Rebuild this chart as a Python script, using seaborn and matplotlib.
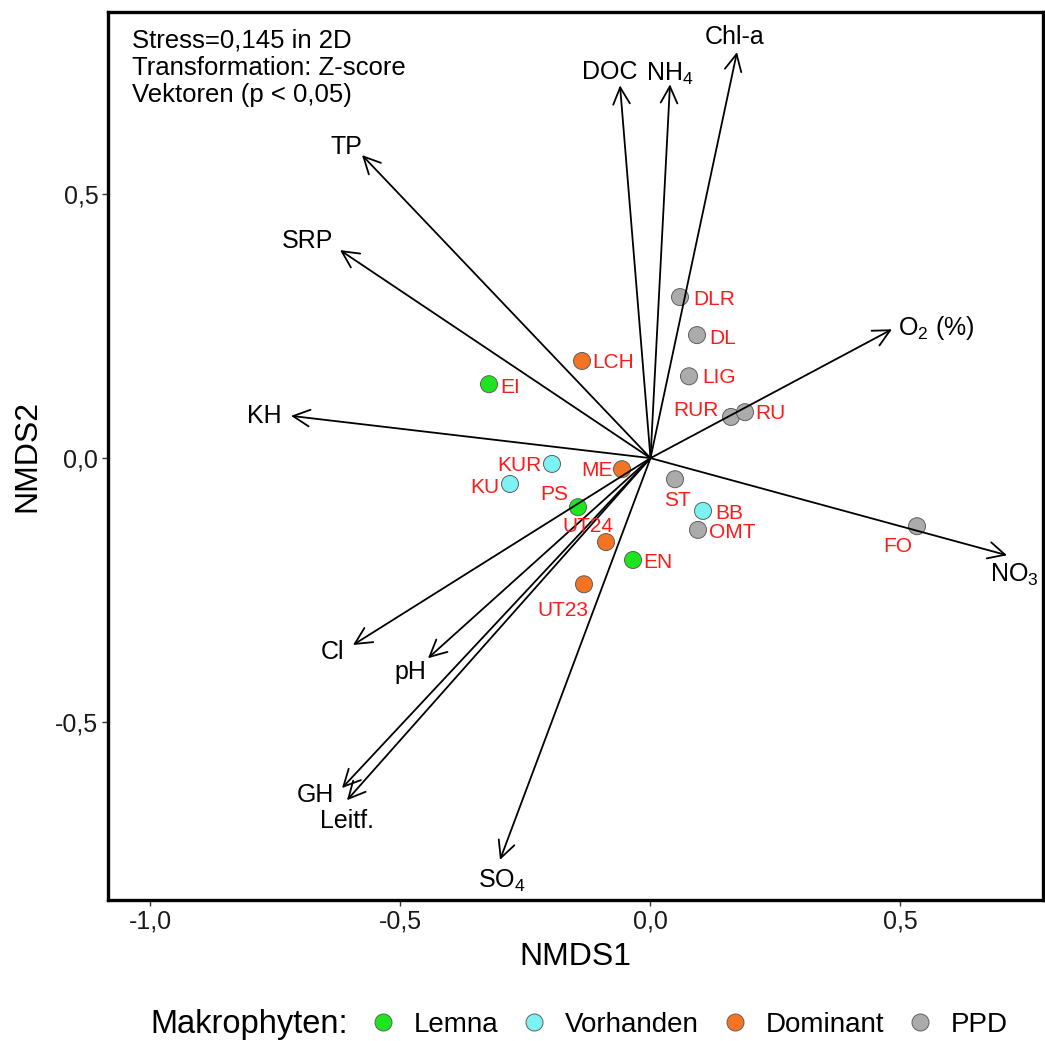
import matplotlib
matplotlib.use("Agg")
from matplotlib import pyplot as plt
import seaborn as sns
import pandas as pd

# sites (NMDS scores) and their macrophyte class
sites = ["DLR", "DL", "LIG", "RUR", "RU", "LCH", "EI", "KUR", "KU", "ME",
         "PS", "UT24", "EN", "UT23", "ST", "BB", "OMT", "FO"]
nmds1 = [0.059, 0.093, 0.077, 0.161, 0.189, -0.137, -0.323, -0.197, -0.281, -0.057,
         -0.145, -0.089, -0.035, -0.133, 0.049, 0.105, 0.095, 0.533]
nmds2 = [0.305, 0.233, 0.155, 0.078, 0.087, 0.184, 0.140, -0.011, -0.049, -0.021,
         -0.093, -0.159, -0.193, -0.239, -0.040, -0.100, -0.136, -0.129]
makrophyten = ["PPD", "PPD", "PPD", "PPD", "PPD", "Dominant", "Lemna", "Vorhanden",
               "Vorhanden", "Dominant", "Lemna", "Dominant", "Lemna", "Dominant",
               "PPD", "Vorhanden", "PPD", "PPD"]

groups = ["Lemna", "Vorhanden", "Dominant", "PPD"]
group_colors = ["#1EE61E", "#7DF2F2", "#F57322", "#ABABAB"]

# environmental vectors (p < 0.05)
vectors = ["Chl-a", "DOC", "NH$_4$", "TP", "SRP", "KH", "O$_2$ (%)", "NO$_3$",
           "Cl", "pH", "GH", "Leitf.", "SO$_4$"]
vec1 = [0.173, -0.061, 0.039, -0.577, -0.621, -0.719, 0.483, 0.713,
        -0.595, -0.445, -0.617, -0.607, -0.301]
vec2 = [0.769, 0.706, 0.708, 0.574, 0.394, 0.080, 0.244, -0.184,
        -0.354, -0.379, -0.625, -0.648, -0.761]

xticks = [-1.0, -0.5, 0.0, 0.5]
xticklabels = ["-1,0", "-0,5", "0,0", "0,5"]
yticks = [-0.5, 0.0, 0.5]
yticklabels = ["-0,5", "0,0", "0,5"]

info = "Stress=0,145 in 2D\nTransformation: Z-score\nVektoren (p < 0,05)"

sns.set_style("white")
plt.rcParams["font.family"] = ["Liberation Sans", "DejaVu Sans"]
plt.rcParams["mathtext.fontset"] = "custom"
plt.rcParams["mathtext.rm"] = "Liberation Sans"
plt.rcParams["mathtext.default"] = "regular"
plt.rcParams["text.color"] = "black"
plt.rcParams["axes.labelcolor"] = "black"

df = pd.DataFrame({"site": sites, "NMDS1": nmds1, "NMDS2": nmds2,
                   "Makrophyten": makrophyten})

fig = plt.figure(figsize=(10.45, 10.41), dpi=100)
ax = fig.add_axes([108 / 1045, 1 - 900 / 1041, 935 / 1045, 888 / 1041])

sns.scatterplot(data=df, x="NMDS1", y="NMDS2", hue="Makrophyten", hue_order=groups,
                palette=group_colors, s=150, edgecolor="#5f5f5f", linewidth=0.7,
                ax=ax, zorder=2)

# arrows from origin
for x, y in zip(vec1, vec2):
    ax.annotate("", xy=(x, y), xytext=(0, 0),
                arrowprops=dict(arrowstyle="->,head_length=0.6,head_width=0.3",
                                color="black", lw=1.3, shrinkA=0, shrinkB=0,
                                mutation_scale=20), zorder=3)

# vector labels: offset from tip in pixels (baseline)
vec_off = {"Chl-a": (-2, 8, "center"), "DOC": (-10, 6, "center"),
           "NH$_4$": (0, 4, "center"), "TP": (-16, 1, "center"),
           "SRP": (-32, 2, "center"), "KH": (-27, -7, "center"),
           "O$_2$ (%)": (6, -6, "left"), "NO$_3$": (7, -27, "center"),
           "Cl": (-20, -14, "center"), "pH": (-18, -21, "center"),
           "GH": (-27, -14, "center"), "Leitf.": (0, -28, "center"),
           "SO$_4$": (2, -28, "center")}
for name, x, y in zip(vectors, vec1, vec2):
    dx, dy, ha = vec_off[name]
    ax.annotate(name, xy=(x, y), xytext=(dx, dy), textcoords="offset pixels",
                ha=ha, va="baseline", fontsize=18, color="black", zorder=4)

# site labels
site_off = {"DLR": (13, -1, "left"), "DL": (12, -2, "left"), "LIG": (13, 0, "left"),
            "RUR": (-12, 8, "right"), "RU": (10, 0, "left"), "LCH": (10, 0, "left"),
            "EI": (11, -2, "left"), "KUR": (-10, 0, "right"), "KU": (-11, -2, "right"),
            "ME": (-9, 0, "right"), "PS": (-24, 14, "center"),
            "UT24": (-18, 17, "center"), "EN": (10, -1, "left"),
            "UT23": (-21, -25, "center"), "ST": (2, -20, "center"),
            "BB": (12, -1, "left"), "OMT": (11, -1, "left"), "FO": (-19, -19, "center")}
for name, x, y in zip(sites, nmds1, nmds2):
    dx, dy, ha = site_off[name]
    ax.annotate(name, xy=(x, y), xytext=(dx, dy - 7), textcoords="offset pixels",
                ha=ha, va="baseline", fontsize=15, color="#FF1A1A", zorder=4)

ax.text(0.0257, 0.981, info, transform=ax.transAxes, ha="left", va="top",
        fontsize=18.5, linespacing=1.15)

ax.set_xlim(-1.085, 0.785)
ax.set_ylim(-0.837, 0.845)
ax.set_xticks(xticks)
ax.set_xticklabels(xticklabels)
ax.set_yticks(yticks)
ax.set_yticklabels(yticklabels)
ax.tick_params(axis="both", which="major", direction="out", length=4, width=1,
               color="#333333", labelsize=18, labelcolor="#1a1a1a", pad=3,
               bottom=True, left=True)
for spine in ax.spines.values():
    spine.set_linewidth(2.4)
    spine.set_color("black")

ax.set_xlabel("NMDS1", fontsize=23, va="center")
ax.set_ylabel("NMDS2", fontsize=23, va="center")
ax.xaxis.set_label_coords(0.5, -0.064)
ax.yaxis.set_label_coords(-0.086, 0.5)

sns.move_legend(ax, "center left", bbox_to_anchor=(369 / 1045, 1 - 1025 / 1041),
                bbox_transform=fig.transFigure, ncol=4, title=None, frameon=False,
                fontsize=20, handletextpad=0.6, columnspacing=0.8, handlelength=1.0,
                borderaxespad=0, borderpad=0, labelcolor="black")
fig.text(150 / 1045, 1 - 1025 / 1041, "Makrophyten:", ha="left", va="center",
         fontsize=23.5, color="black")

fig.savefig("out.png", dpi=100)
